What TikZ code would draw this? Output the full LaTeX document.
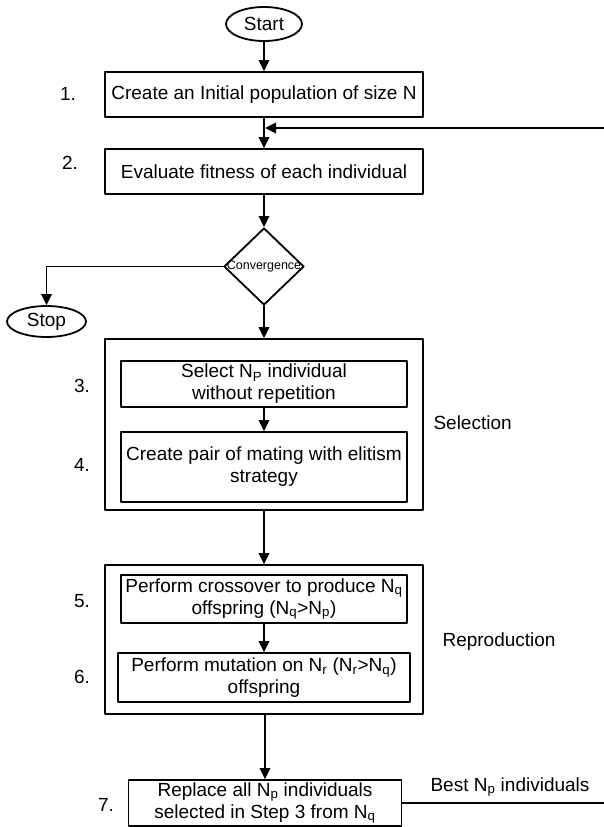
\documentclass[tikz,border=0pt]{standalone}
\usepackage{fontspec}
\setmainfont{Liberation Sans}
\usetikzlibrary{arrows.meta,shapes.geometric}
\tikzset{
  every picture/.style={line join=round, line cap=round, >={Triangle[length=11pt,width=10.5pt]}},
  flow/.style={line width=1.8pt},
  stepbox/.style={draw, line width=1.8pt, rectangle, align=center, inner sep=2pt, font=\fontsize{19}{22}\selectfont},
  groupbox/.style={draw, line width=1.8pt, rectangle, inner sep=0pt},
  terminal/.style={draw, line width=1.8pt, ellipse, inner sep=0pt, font=\fontsize{19}{22}\selectfont},
  decision/.style={draw, line width=1.8pt, diamond, inner sep=0pt, font=\fontsize{12.5}{14}\selectfont},
  steplabel/.style={font=\fontsize{19}{22}\selectfont},
}
\newcommand{\sub}[1]{\textsubscript{#1}}

\begin{document}
\begin{tikzpicture}[x=1pt,y=-1pt]
\useasboundingbox (0,0) rectangle (604,827);
\node[terminal,minimum width=76pt,minimum height=34pt](start) at (264,24){Start};
\node[stepbox,minimum width=318pt,minimum height=45pt](init) at (264,94.5){Create an Initial population of size N};
\node[stepbox,minimum width=318pt,minimum height=45pt](eval) at (264,171.5){Evaluate fitness of each individual};
\node[decision,minimum width=80pt,minimum height=77pt](conv) at (264,266.5){\makebox[0pt]{Convergence}};
\node[terminal,minimum width=79pt,minimum height=31pt](stop) at (46.5,321.5){Stop};
\node[groupbox,minimum width=318pt,minimum height=171pt](selection) at (264,424.5){};
\node[groupbox,minimum width=318pt,minimum height=149pt](reproduction) at (264,639.5){};
\node[stepbox,minimum width=286pt,minimum height=46pt](select) at (264,384){Select N\sub{P} individual\\without repetition};
\node[stepbox,minimum width=286pt,minimum height=70pt](mating) at (264,467){Create pair of mating with elitism\\strategy};
\node[stepbox,minimum width=286pt,minimum height=48pt](cross) at (264,599){Perform crossover to produce N\sub{q}\\offspring (N\sub{q}>N\sub{p})};
\node[stepbox,minimum width=292pt,minimum height=49pt](mutate) at (264,677.5){Perform mutation on N\sub{r} (N\sub{r}>N\sub{q})\\offspring};
\node[stepbox,minimum width=273pt,minimum height=46pt](replace) at (265,803){Replace all N\sub{p} individuals\\selected in Step 3 from N\sub{q}};
\node[steplabel](n1) at (68,94){1.};
\node[steplabel](n2) at (70,163){2.};
\node[steplabel](n3) at (82,386){3.};
\node[steplabel](n4) at (82,465){4.};
\node[steplabel](n5) at (82,601){5.};
\node[steplabel](n6) at (82,677){6.};
\node[steplabel](n7) at (106,805){7.};
\node[steplabel,anchor=west](selname) at (430,423){Selection};
\node[steplabel,anchor=west](repname) at (439,642){Reproduction};
\node[steplabel](best) at (510,787){Best N\sub{p} individuals};
\coordinate (loop) at (604,128);
\coordinate (out) at (604,803);
\draw[flow,->] (start) -- (init);
\draw[flow,->] (init) -- (eval);
\draw[flow,->,shorten >=1pt] (loop) -- (loop -| init.south);
\draw[flow,->] (eval) -- (conv);
\draw[flow,->] (conv.west) -| (stop.north);
\draw[flow,->] (conv) -- (selection);
\draw[flow,->] (select) -- (mating);
\draw[flow,->] (selection) -- (reproduction);
\draw[flow,->] (cross) -- (mutate);
\draw[flow,->] (reproduction.south -| replace.north) -- (replace);
\draw[flow] (replace.east) -- (out);
\end{tikzpicture}
\end{document}
